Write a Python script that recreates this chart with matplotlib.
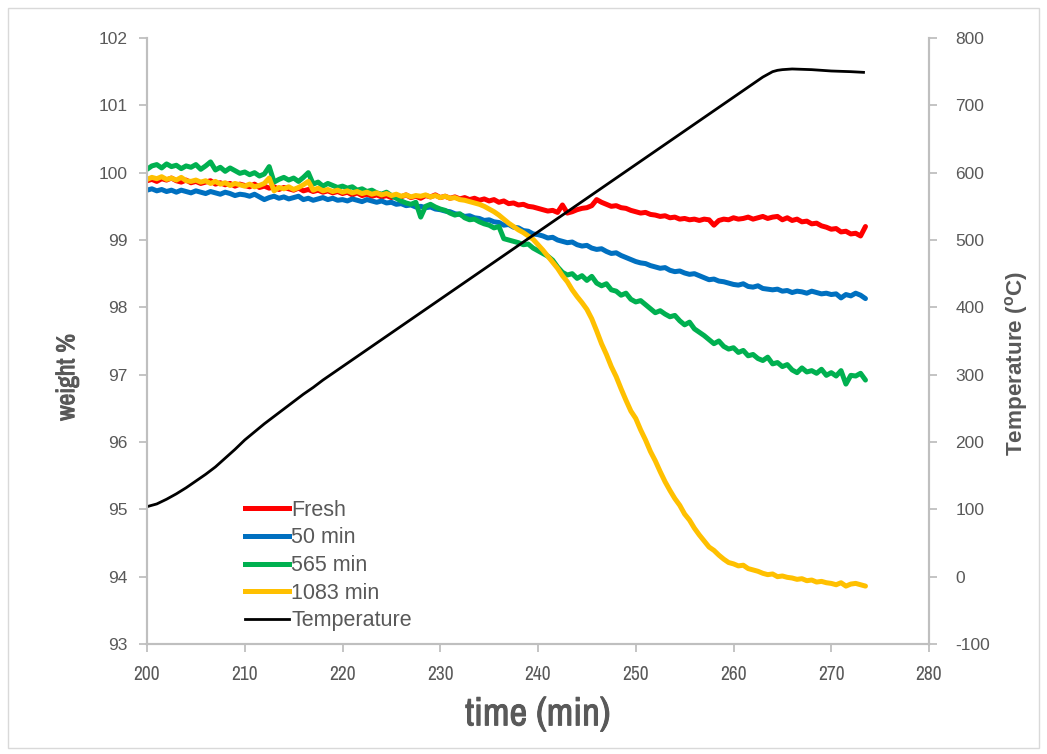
import numpy as np
import matplotlib
matplotlib.use("Agg")
import matplotlib.pyplot as plt
from matplotlib.patches import Rectangle
from matplotlib.lines import Line2D
from matplotlib import font_manager as fm
import matplotlib.patheffects as pe

# ---------------- data ----------------
time = np.arange(200.0, 273.51, 0.5)

fresh = [
    99.88, 99.90, 99.87, 99.91, 99.89, 99.92, 99.88, 99.86, 99.89, 99.85,
    99.87, 99.84, 99.86, 99.88, 99.83, 99.85, 99.82, 99.84, 99.80, 99.83,
    99.81, 99.79, 99.83, 99.78, 99.80, 99.77, 99.79, 99.75, 99.78, 99.76,
    99.74, 99.77, 99.73, 99.75, 99.72, 99.74, 99.71, 99.73, 99.70, 99.72,
    99.69, 99.71, 99.67, 99.70, 99.66, 99.68, 99.65, 99.67, 99.64, 99.66,
    99.63, 99.66, 99.64, 99.67, 99.63, 99.65, 99.62, 99.66, 99.64, 99.67,
    99.63, 99.65, 99.62, 99.64, 99.61, 99.63, 99.60, 99.62, 99.59, 99.61,
    99.58, 99.60, 99.56, 99.58, 99.54, 99.55, 99.52, 99.53, 99.50, 99.49,
    99.47, 99.45, 99.43, 99.44, 99.41, 99.52, 99.40, 99.42, 99.45, 99.47,
    99.48, 99.51, 99.60, 99.56, 99.53, 99.50, 99.51, 99.48, 99.47, 99.44,
    99.42, 99.40, 99.41, 99.38, 99.37, 99.35, 99.36, 99.33, 99.34, 99.31,
    99.32, 99.30, 99.31, 99.29, 99.31, 99.30, 99.22, 99.29, 99.31, 99.30,
    99.33, 99.31, 99.32, 99.34, 99.31, 99.33, 99.35, 99.32, 99.34, 99.35,
    99.30, 99.33, 99.29, 99.31, 99.27, 99.28, 99.24, 99.25, 99.21, 99.19,
    99.16, 99.17, 99.12, 99.13, 99.09, 99.10, 99.06, 99.20,
]

min50 = [
    99.74, 99.76, 99.73, 99.75, 99.72, 99.74, 99.71, 99.74, 99.72, 99.70,
    99.73, 99.71, 99.69, 99.72, 99.70, 99.68, 99.71, 99.69, 99.66, 99.68,
    99.67, 99.65, 99.68, 99.64, 99.60, 99.63, 99.65, 99.62, 99.64, 99.61,
    99.63, 99.65, 99.60, 99.62, 99.59, 99.61, 99.63, 99.60, 99.62, 99.59,
    99.60, 99.58, 99.61, 99.59, 99.57, 99.60, 99.58, 99.56, 99.58, 99.55,
    99.56, 99.53, 99.54, 99.51, 99.52, 99.49, 99.50, 99.48, 99.49, 99.46,
    99.45, 99.43, 99.42, 99.39, 99.38, 99.35, 99.36, 99.33, 99.32, 99.29,
    99.30, 99.27, 99.26, 99.22, 99.23, 99.19, 99.18, 99.14, 99.13, 99.09,
    99.08, 99.06, 99.03, 99.04, 99.00, 98.98, 98.96, 98.97, 98.93, 98.91,
    98.92, 98.88, 98.86, 98.87, 98.83, 98.80, 98.81, 98.77, 98.74, 98.71,
    98.68, 98.66, 98.65, 98.62, 98.60, 98.58, 98.59, 98.55, 98.53, 98.54,
    98.51, 98.49, 98.50, 98.47, 98.44, 98.41, 98.42, 98.39, 98.38, 98.36,
    98.34, 98.33, 98.35, 98.31, 98.30, 98.32, 98.28, 98.27, 98.26, 98.27,
    98.24, 98.25, 98.22, 98.24, 98.23, 98.21, 98.24, 98.22, 98.20, 98.21,
    98.19, 98.20, 98.14, 98.19, 98.17, 98.21, 98.18, 98.13,
]

min565 = [
    100.05, 100.10, 100.12, 100.07, 100.13, 100.09, 100.11, 100.06, 100.10, 100.08,
    100.12, 100.05, 100.10, 100.16, 100.04, 100.08, 100.02, 100.07, 100.03, 99.99,
    100.01, 99.97, 100.00, 99.95, 99.98, 100.09, 99.86, 99.90, 99.93, 99.89,
    99.92, 99.87, 99.93, 100.00, 99.83, 99.86, 99.80, 99.84, 99.81, 99.78,
    99.80, 99.77, 99.79, 99.74, 99.76, 99.72, 99.74, 99.70, 99.68, 99.71,
    99.66, 99.62, 99.58, 99.55, 99.53, 99.56, 99.34, 99.50, 99.53, 99.49,
    99.46, 99.44, 99.40, 99.37, 99.39, 99.33, 99.30, 99.31, 99.27, 99.24,
    99.22, 99.18, 99.20, 99.02, 99.00, 98.98, 98.96, 98.93, 98.94, 98.88,
    98.84, 98.80, 98.76, 98.70, 98.60, 98.52, 98.48, 98.50, 98.43, 98.47,
    98.40, 98.46, 98.36, 98.32, 98.35, 98.26, 98.24, 98.18, 98.21, 98.12,
    98.08, 98.10, 98.04, 97.98, 97.92, 97.95, 97.90, 97.86, 97.88, 97.80,
    97.74, 97.78, 97.68, 97.63, 97.58, 97.52, 97.46, 97.50, 97.42, 97.38,
    97.40, 97.33, 97.36, 97.28, 97.30, 97.24, 97.21, 97.26, 97.16, 97.18,
    97.12, 97.15, 97.07, 97.03, 97.10, 97.04, 97.06, 97.02, 97.08, 96.99,
    97.03, 96.98, 97.06, 96.86, 96.99, 96.98, 97.02, 96.92,
]

min1083 = [
    99.90, 99.93, 99.91, 99.94, 99.90, 99.92, 99.89, 99.93, 99.88, 99.87,
    99.89, 99.86, 99.88, 99.84, 99.87, 99.83, 99.85, 99.81, 99.84, 99.82,
    99.80, 99.83, 99.79, 99.81, 99.84, 99.92, 99.73, 99.78, 99.76, 99.79,
    99.75, 99.78, 99.82, 99.87, 99.74, 99.77, 99.73, 99.75, 99.72, 99.74,
    99.71, 99.73, 99.70, 99.72, 99.69, 99.71, 99.68, 99.70, 99.67, 99.69,
    99.66, 99.68, 99.65, 99.67, 99.64, 99.66, 99.65, 99.67, 99.64, 99.66,
    99.63, 99.65, 99.62, 99.63, 99.60, 99.59, 99.57, 99.55, 99.53, 99.50,
    99.46, 99.42, 99.37, 99.31, 99.25, 99.20, 99.15, 99.11, 99.06, 99.01,
    98.93, 98.85, 98.76, 98.67, 98.58, 98.47, 98.38, 98.26, 98.16, 98.07,
    97.97, 97.83, 97.65, 97.46, 97.30, 97.12, 96.97, 96.79, 96.62, 96.46,
    96.35, 96.18, 96.03, 95.86, 95.72, 95.56, 95.41, 95.28, 95.16, 95.06,
    94.93, 94.84, 94.72, 94.62, 94.53, 94.44, 94.39, 94.32, 94.26, 94.21,
    94.19, 94.16, 94.17, 94.12, 94.10, 94.08, 94.05, 94.03, 94.04, 94.00,
    94.01, 93.99, 93.98, 93.96, 93.97, 93.94, 93.95, 93.92, 93.93, 93.91,
    93.90, 93.88, 93.91, 93.86, 93.89, 93.90, 93.88, 93.86,
]

temp_time = [200, 201, 202, 203, 204, 205, 206, 207, 208, 209, 210, 211, 212, 213,
             214, 215, 216, 217, 218, 219, 220, 225, 230, 235, 240, 245, 250, 255,
             260, 262, 263, 263.5, 264, 264.5, 265, 266, 268, 270, 272, 273.3]
temperature = [104, 108, 115, 123, 132, 142, 152, 163, 176, 189, 203, 215, 227, 238,
               249, 260, 271, 281, 292, 302, 312, 362, 412, 462, 512, 562, 612, 662,
               712, 732, 742, 746, 750, 752, 753, 754, 753, 751, 750, 749]

series_names = ["Fresh", "50 min", "565 min", "1083 min", "Temperature"]
series_colors = ["#FF0000", "#0070C0", "#00B050", "#FFC000", "#000000"]

x_ticks = [200, 210, 220, 230, 240, 250, 260, 270, 280]
w_ticks = [93, 94, 95, 96, 97, 98, 99, 100, 101, 102]
t_ticks = [-100, 0, 100, 200, 300, 400, 500, 600, 700, 800]

# ---------------- style ----------------
narrow = None
for f in fm.fontManager.ttflist:
    nm = f.name.lower()
    if ("narrow" in nm or "condensed" in nm) and narrow is None:
        narrow = f.name
if narrow is None:
    for f in fm.fontManager.ttflist:
        if f.stretch not in ("normal", 500) and "Sans" in f.name:
            narrow = f.name
            break
have_narrow = narrow is not None
if narrow is None:
    narrow = "Liberation Sans"

plt.rcParams["font.family"] = ["Liberation Sans", "DejaVu Sans"]
plt.rcParams["axes.unicode_minus"] = False
plt.rcParams["mathtext.fontset"] = "custom"
plt.rcParams["mathtext.bf"] = "Liberation Sans:bold"
plt.rcParams["mathtext.rm"] = "Liberation Sans"

grey_axis = "#BFBFBF"
grey_text = "#595959"
bold_fx = [pe.Stroke(linewidth=0.7, foreground=grey_text), pe.Normal()]

fig = plt.figure(figsize=(10.47, 7.54), dpi=100)
fig.patches.append(Rectangle((8 / 1047, 6 / 754), 1031 / 1047, 740 / 754,
                             transform=fig.transFigure, fill=False,
                             edgecolor="#D9D9D9", linewidth=1.0))
ax = fig.add_axes([147 / 1047, 110 / 754, 782 / 1047, 606 / 754])
ax2 = ax.twinx()

data_series = [fresh, min50, min565, min1083]
for vals, name, col in zip(data_series, series_names[:4], series_colors[:4]):
    ax.plot(time, vals, color=col, linewidth=3.6, label=name,
            solid_joinstyle="round", solid_capstyle="round")
ax2.plot(temp_time, temperature, color=series_colors[4], linewidth=2.0, label=series_names[4])

ax.set_xlim(200, 280)
ax.set_ylim(93, 102)
ax2.set_ylim(-100, 800)
ax.set_xticks(x_ticks)
ax.set_yticks(w_ticks)
ax2.set_yticks(t_ticks)

for a in (ax, ax2):
    for s in a.spines.values():
        s.set_color(grey_axis)
        s.set_linewidth(1.5)
    a.spines["top"].set_visible(False)
    a.tick_params(colors=grey_axis, labelcolor=grey_text, length=6, width=1.3,
                  labelsize=12.5, direction="out")
ax.tick_params(axis="y", pad=8)
ax2.tick_params(axis="y", pad=13)
ax.tick_params(axis="x", pad=9)
for lab in ax.get_xticklabels():
    lab.set_fontfamily(narrow)
    lab.set_fontsize(14 if have_narrow else 12.5)

xl = ax.set_xlabel("time (min)", fontsize=(28 if have_narrow else 22), fontweight="bold",
                   color=grey_text, family=narrow)
if have_narrow:
    xl.set_path_effects(bold_fx)
ax.xaxis.set_label_coords(0.5, -0.088)
yl = ax.set_ylabel("weight %", fontsize=(18.5 if have_narrow else 15), fontweight="bold",
                   color=grey_text, family=narrow)
if have_narrow:
    yl.set_path_effects(bold_fx)
ax.yaxis.set_label_coords(-0.088, 0.44)
ax2.set_ylabel("Temperature ($\\mathbf{^{o}}$C)", fontsize=16.2, fontweight="bold",
               color=grey_text, rotation=90)
ax2.yaxis.set_label_coords(1.095, 0.463)

handles = [Line2D([], [], color=c, linewidth=(3.6 if i < 4 else 2.0))
           for i, c in enumerate(series_colors)]
leg = ax.legend(handles, series_names, loc="upper left", bbox_to_anchor=(0.125, 0.238),
                frameon=False, fontsize=15.5, handlelength=2.05, handletextpad=0.1,
                labelspacing=0.31, borderpad=0, borderaxespad=0)
for t in leg.get_texts():
    t.set_color(grey_text)

fig.savefig("out.png", dpi=100)
